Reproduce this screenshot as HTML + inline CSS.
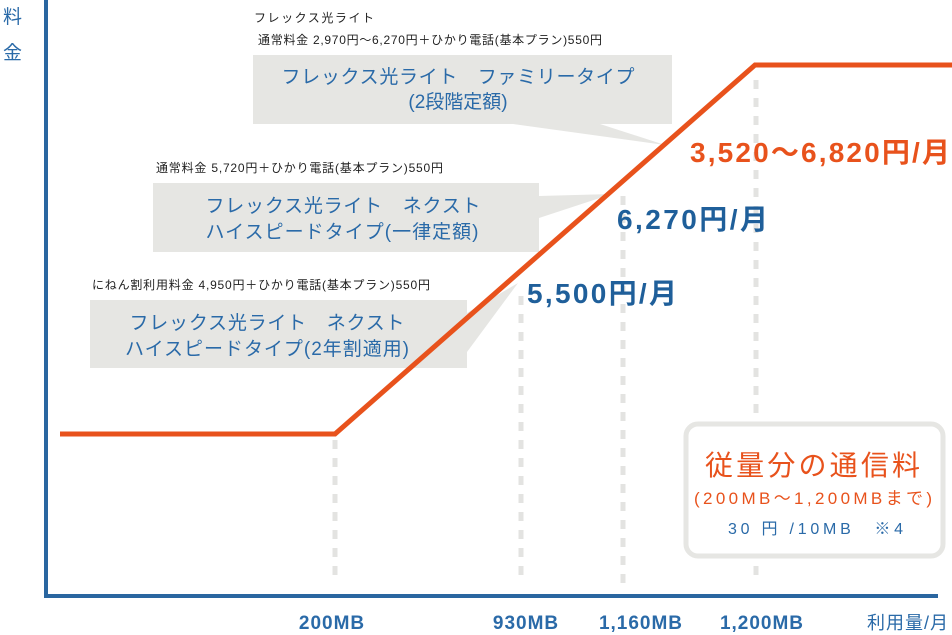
<!DOCTYPE html>
<html><head><meta charset="utf-8"><style>
html,body{margin:0;padding:0;background:#fff;}
svg{display:block;font-family:"Liberation Sans","Noto Sans CJK JP",sans-serif;}
</style></head><body>
<svg width="952" height="635" viewBox="0 0 952 635" xmlns="http://www.w3.org/2000/svg">
<rect width="952" height="635" fill="#fff"/>
<g stroke="#e3e3e1" stroke-width="5" stroke-dasharray="9,9">
<line x1="335" y1="440" x2="335" y2="584"/>
<line x1="521" y1="296" x2="521" y2="584"/>
<line x1="623" y1="196" x2="623" y2="584"/>
<line x1="756" y1="80" x2="756" y2="584"/>
</g>
<g fill="#e6e6e3">
<rect x="253" y="55" width="419" height="69"/>
<polygon points="513,124 600,124 665,145"/>
<rect x="153" y="183" width="386" height="69"/>
<polygon points="539,196 539,218 612,194"/>
<rect x="90" y="300" width="377" height="68"/>
<polygon points="467,313 467,352 518,283"/>
</g>
<line x1="46" y1="0" x2="46" y2="597" stroke="#2a66a0" stroke-width="4"/>
<line x1="44" y1="596" x2="938" y2="596" stroke="#2a66a0" stroke-width="4"/>
<polyline points="60,434 335,434 755,65 952,65" fill="none" stroke="#e8521c" stroke-width="5"/>
<rect x="686" y="424" width="257" height="132" rx="12" fill="#fff" stroke="#e6e6e3" stroke-width="5"/>
<g font-size="12" fill="#222">
<text x="254" y="22" textLength="120">フレックス光ライト</text>
<text x="258" y="44" textLength="344">通常料金 2,970円〜6,270円＋ひかり電話(基本プラン)550円</text>
<text x="156" y="172" textLength="287">通常料金 5,720円＋ひかり電話(基本プラン)550円</text>
<text x="92" y="289" textLength="338">にねん割利用料金 4,950円＋ひかり電話(基本プラン)550円</text>
</g>
<g font-size="19" fill="#2a6aa8" text-anchor="middle">
<text x="458" y="83" textLength="353">フレックス光ライト　ファミリータイプ</text>
<text x="458" y="108">(2段階定額)</text>
<text x="343" y="212" textLength="275">フレックス光ライト　ネクスト</text>
<text x="342" y="238" textLength="273">ハイスピードタイプ(一律定額)</text>
<text x="267" y="329" textLength="275">フレックス光ライト　ネクスト</text>
<text x="267" y="355" textLength="284">ハイスピードタイプ(2年割適用)</text>
</g>
<text x="690" y="162" font-size="28" font-weight="bold" fill="#e8521c" textLength="260">3,520〜6,820円/月</text>
<text x="617" y="229" font-size="28" font-weight="bold" fill="#1f5f9a" textLength="151">6,270円/月</text>
<text x="527" y="303" font-size="28" font-weight="bold" fill="#1f5f9a" textLength="150">5,500円/月</text>
<text x="705" y="475" font-size="28" fill="#e8521c" textLength="215">従量分の通信料</text>
<text x="694" y="504" font-size="17" fill="#e8521c" textLength="238">(200MB〜1,200MBまで)</text>
<text x="728" y="534" font-size="16" fill="#2a6aa8" textLength="175">30 円 /10MB　※4</text>
<g font-size="19" font-weight="bold" fill="#2a6aa8" text-anchor="middle" letter-spacing="1">
<text x="332" y="629">200MB</text>
<text x="526" y="629">930MB</text>
<text x="641" y="629">1,160MB</text>
<text x="762" y="629">1,200MB</text>
</g>
<text x="949" y="629" font-size="18" fill="#2a6aa8" text-anchor="end" letter-spacing="1">利用量/月</text>
<text x="3" y="23" font-size="19" fill="#2a6aa8">料</text>
<text x="3" y="59" font-size="19" fill="#2a6aa8">金</text>
</svg>
</body></html>
